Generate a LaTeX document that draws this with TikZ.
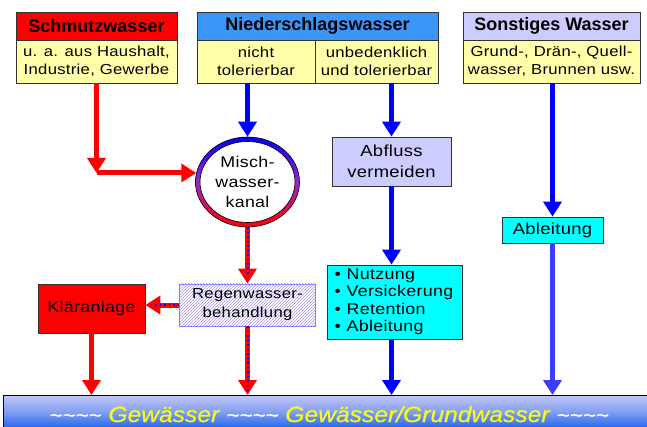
\documentclass[tikz,border=0pt]{standalone}
\usepackage{fontspec}
\setmainfont{Liberation Sans}
\newfontfamily\wf[FakeStretch=1.15,LetterSpace=2]{Liberation Sans}
\newfontfamily\hdrf{Liberation Sans Bold}
\newfontfamily\itf[FakeStretch=1.12,FakeBold=0.6]{Liberation Sans Italic}
\usetikzlibrary{arrows.meta,patterns,shapes.geometric,calc}
\definecolor{hdrblue}{RGB}{60,150,250}
\definecolor{lav}{RGB}{204,204,255}
\definecolor{pale}{RGB}{255,255,170}
\definecolor{cyanb}{RGB}{0,255,255}
\definecolor{redc}{RGB}{255,0,0}
\definecolor{blu}{RGB}{0,0,255}
\definecolor{blu2}{RGB}{60,60,255}
\definecolor{hatchc}{RGB}{175,150,240}
\definecolor{rwborder}{RGB}{130,130,255}
\definecolor{edge}{RGB}{50,50,50}
\definecolor{bandtop}{RGB}{195,198,248}
\definecolor{bandmid}{RGB}{130,160,242}
\definecolor{bandbot}{RGB}{40,105,240}
\definecolor{txtyel}{RGB}{250,250,20}
\tikzset{
  box/.style={draw=edge, line width=0.8pt, rectangle, inner sep=0pt, align=center},
  hdr/.style={box, font=\hdrf\fontsize{18}{20}\selectfont},
  body/.style={box, fill=pale, font=\wf\fontsize{14.5}{18}\selectfont},
  lbl/.style={font=\wf\fontsize{15.5}{20}\selectfont},
  rarr/.style={draw=redc, line width=5pt, -{Triangle[width=18pt,length=15pt]}},
  barr/.style={draw=blu, line width=5pt, -{Triangle[width=18pt,length=15pt]}},
  dots/.style={draw=blu, line width=2pt, dash pattern=on 1.5pt off 3pt},
}
\newcommand{\wavy}{{\color{white}\fontsize{20}{20}\selectfont\textasciitilde\textasciitilde\textasciitilde\textasciitilde}}
\begin{document}
\begin{tikzpicture}[x=1pt,y=-1pt]
\useasboundingbox (0,0) rectangle (647,427);
\fill[white] (0,0) rectangle (647,427);
% headers
\node[hdr, fill=redc, minimum width=161pt, minimum height=28pt] (sh) at (96.5,26) {Schmutzwasser};
\node[body, minimum width=161pt, minimum height=43pt] (sb) at (96.5,61.5) {u. a. aus Haushalt,\\Industrie, Gewerbe};
\node[hdr, fill=hdrblue, minimum width=241pt, minimum height=28pt] (nh) at (317.5,26) {Niederschlagswasser};
\node[body, minimum width=118pt, minimum height=43pt] (nb1) at (256,61.5) {nicht\\tolerierbar};
\node[body, minimum width=123pt, minimum height=43pt] (nb2) at (376.5,61.5) {unbedenklich\\und tolerierbar};
\node[hdr, fill=lav, minimum width=177pt, minimum height=28pt] (oh) at (551.5,26) {Sonstiges Wasser};
\node[body, minimum width=177pt, minimum height=43pt] (ob) at (551.5,61.5) {Grund-, Drän-, Quell-\\wasser, Brunnen usw.};
% mixing channel
\fill[white] (247.5,182) ellipse [x radius=52, y radius=45];
\shade[top color=blu, bottom color=redc, middle color={rgb,255:red,150;green,40;blue,200}, even odd rule]
  (247.5,182) ellipse [x radius=52, y radius=45] (247.5,182) ellipse [x radius=47.5, y radius=40.5];
\draw[black, line width=0.6pt] (247.5,182) ellipse [x radius=47.5, y radius=40.5];
\node[ellipse, draw=black, line width=0.6pt, minimum width=104pt, minimum height=90pt, inner sep=0pt, align=center, lbl] (circ) at (247.5,182) {Misch-\\wasser-\\kanal};
% other boxes
\node[box, fill=lav, lbl, minimum width=119pt, minimum height=49pt, font=\wf\fontsize{16}{21}\selectfont] (abf) at (391.5,161.5) {Abfluss\\vermeiden};
\node[box, fill=cyanb, minimum width=135pt, minimum height=74pt, align=left, font=\wf\fontsize{15.5}{17.5}\selectfont, text width=120pt] (nutz) at (394.5,302)
  {\textbullet\hspace{6pt}Nutzung\\\textbullet\hspace{6pt}Versickerung\\\textbullet\hspace{6pt}Retention\\\textbullet\hspace{6pt}Ableitung};
\node[box, fill=cyanb, lbl, minimum width=101pt, minimum height=26pt, font=\wf\fontsize{16}{20}\selectfont] (abl) at (552.5,230) {Ableitung};
\node[box, draw=rwborder, pattern=north east lines, pattern color=hatchc, lbl, minimum width=136pt, minimum height=42pt, font=\wf\fontsize{14.5}{19}\selectfont] (rw) at (247.5,305) {Regenwasser-\\behandlung};
\node[box, fill=redc, lbl, minimum width=107pt, minimum height=49pt] (kl) at (91.5,308.5) {Kläranlage};
% band
\node[draw=black, line width=1pt, top color=bandtop, bottom color=bandbot, middle color=bandmid, rectangle, minimum width=670pt, minimum height=32pt, inner sep=0pt, anchor=north west] (band) at (3,395) {};
\node[anchor=base, inner sep=0pt, font=\itf\fontsize{22}{24}\selectfont, text=txtyel] (bandtxt) at (329,422)
  {\wavy{} Gewässer \wavy{} Gewässer/Grundwasser \wavy};
% connectors
\coordinate (corner) at (sb.south |- circ.170);
\draw[rarr] (sb.south) -- (corner);
\draw[rarr] (corner) -- (circ.170);
\draw[barr] (circ.north |- nb1.south) -- (circ.north);
\draw[rarr] (circ.south) -- (rw.north);
\draw[dots] (circ.south) -- ($(rw.north)+(0,-3)$);
\draw[rarr] (rw.west) -- (rw.west -| kl.east);
\draw[dots] (rw.west) -- ($(rw.west -| kl.east)+(3,0)$);
\draw[rarr] (kl.south) -- (kl.south |- band.north);
\draw[rarr] (rw.south) -- (rw.south |- band.north);
\draw[dots] (rw.south) -- ($(rw.south |- band.north)+(0,-3)$);
\draw[barr] (abf.north |- nb2.south) -- (abf.north);
\draw[barr] (abf.south) -- (abf.south |- nutz.north);
\draw[barr] (abf.south |- nutz.south) -- (abf.south |- band.north);
\draw[barr] (abl.north |- ob.south) -- (abl.north);
\draw[barr, draw=blu2] (abl.south) -- (abl.south |- band.north);
\end{tikzpicture}
\end{document}
